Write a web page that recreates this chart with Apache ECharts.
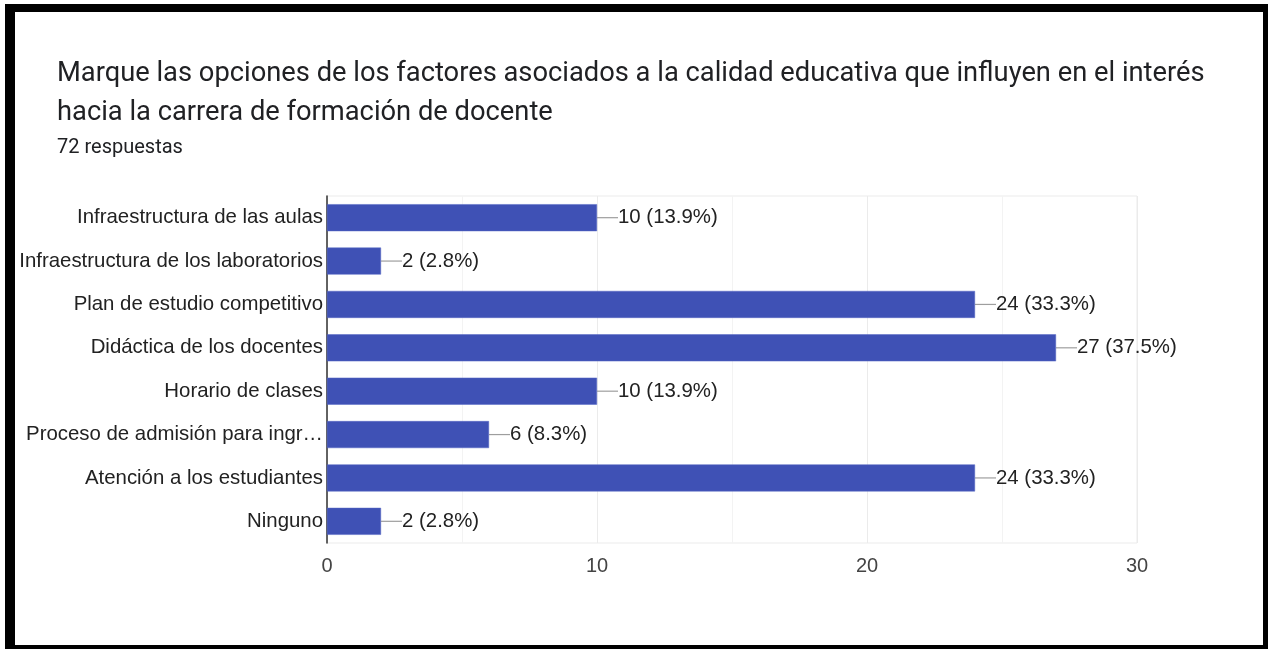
<!DOCTYPE html>
<html>
<head>
<meta charset="utf-8">
<script src="https://cdn.jsdelivr.net/npm/echarts@6/dist/echarts.min.js"></script>
<style>
  html, body { margin: 0; padding: 0; background: #fff; overflow: hidden; }
  #frame { position: absolute; left: 5px; top: 4px; width: 1268px; height: 651px;
           border: 10px solid #000; border-top-width: 8px; box-sizing: border-box; }
  #chart { position: absolute; left: 0; top: 0; width: 1268px; height: 649px; }
</style>
</head>
<body>
<div id="chart"></div>
<div id="frame"></div>
<script>
  const categories = [
    'Infraestructura de las aulas',
    'Infraestructura de los laboratorios',
    'Plan de estudio competitivo',
    'Didáctica de los docentes',
    'Horario de clases',
    'Proceso de admisión para ingr…',
    'Atención a los estudiantes',
    'Ninguno'
  ];
  const counts = [10, 2, 24, 27, 10, 6, 24, 2];
  const percents = ['13.9', '2.8', '33.3', '37.5', '13.9', '8.3', '33.3', '2.8'];
  const xTicks = [0, 10, 20, 30];

  const myChart = echarts.init(document.getElementById('chart'));

  // leader line between bar end and its label
  function leader(params, api) {
    const p = api.coord([api.value(0), api.value(1)]);
    return {
      type: 'line',
      shape: { x1: p[0], y1: p[1], x2: p[0] + 21, y2: p[1] },
      style: { stroke: '#9e9e9e', lineWidth: 1.2 },
      silent: true
    };
  }

  const option = {
    animation: false,
    title: {
      left: 57,
      top: 55,
      padding: 0,
      text: 'Marque las opciones de los factores asociados a la calidad educativa que influyen en el interés\nhacia la carrera de formación de docente',
      subtext: '72 respuestas',
      itemGap: 4,
      textStyle: { fontFamily: 'Roboto', fontSize: 27.3, fontWeight: 'normal', color: '#202124', lineHeight: 39 },
      subtextStyle: { fontFamily: 'Roboto', fontSize: 20, color: '#202124', lineHeight: 22 }
    },
    grid: { left: 327, right: 131, top: 196, bottom: 106, show: true, borderColor: '#ebebeb', borderWidth: 1 },
    xAxis: {
      type: 'value',
      min: xTicks[0],
      max: xTicks[xTicks.length - 1],
      interval: 10,
      axisLine: { show: false },
      axisTick: { show: false },
      axisLabel: { color: '#444', fontFamily: 'Liberation Sans', fontSize: 20, margin: 13 },
      splitLine: { lineStyle: { color: '#ebebeb' } },
      minorTick: { show: false, splitNumber: 2 },
      minorSplitLine: { show: true, lineStyle: { color: '#f3f3f3' } }
    },
    yAxis: {
      type: 'category',
      data: categories,
      inverse: true,
      axisLine: { lineStyle: { color: '#333', width: 1.5 } },
      axisTick: { show: false },
      axisLabel: { color: '#222', fontFamily: 'Liberation Sans', fontSize: 20.4, margin: 4, padding: [3, 0, 0, 0] }
    },
    series: [
      {
        type: 'bar',
        data: counts,
        barWidth: 27,
        itemStyle: { color: '#3f51b5', borderColor: '#5567c4', borderWidth: 0.5 },
        label: {
          show: true,
          position: 'right',
          distance: 21,
          color: '#222',
          fontFamily: 'Liberation Sans',
          fontSize: 20.4,
          padding: [3, 0, 0, 0],
          formatter: function (p) { return counts[p.dataIndex] + ' (' + percents[p.dataIndex] + '%)'; }
        }
      },
      {
        type: 'custom',
        renderItem: leader,
        data: counts.map(function (v, i) { return [v, i]; }),
        encode: { x: 0, y: 1 },
        z: 1
      }
    ]
  };
  myChart.setOption(option);
</script>
</body>
</html>
